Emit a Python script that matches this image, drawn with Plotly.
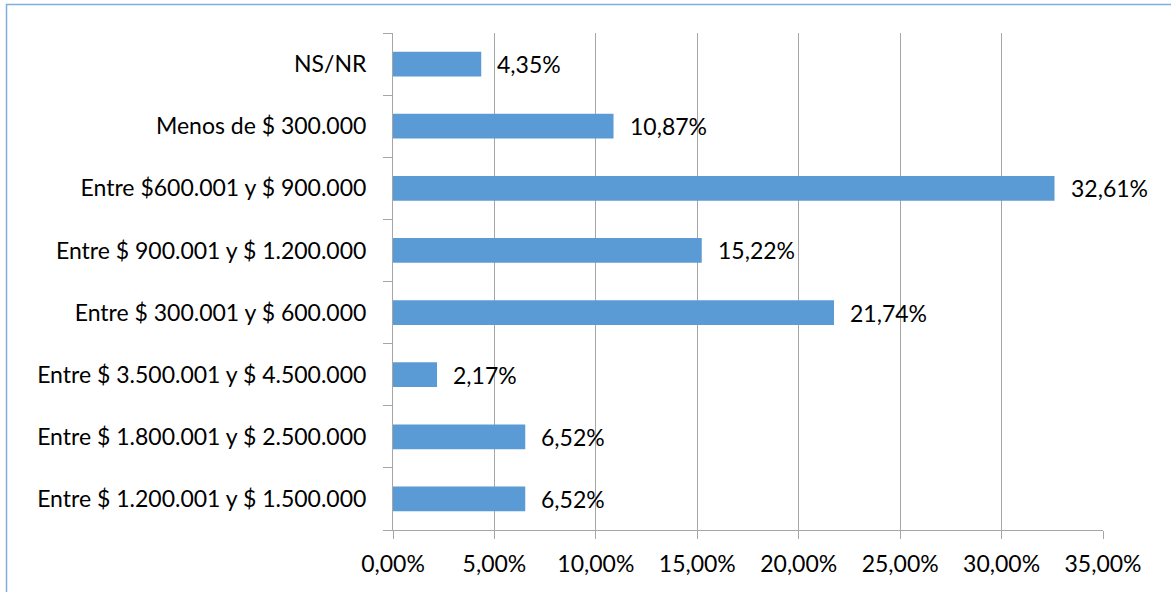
import plotly.graph_objects as go

# categories bottom -> top
categories = [
    "Entre $ 1.200.001 y $ 1.500.000",
    "Entre $ 1.800.001 y $ 2.500.000",
    "Entre $ 3.500.001 y $ 4.500.000",
    "Entre $ 300.001 y $ 600.000",
    "Entre $ 900.001 y $ 1.200.000",
    "Entre $600.001 y $ 900.000",
    "Menos de $ 300.000",
    "NS/NR",
]
percent = [6.52, 6.52, 2.17, 21.74, 15.22, 32.61, 10.87, 4.35]
x_ticks = [0, 5, 10, 15, 20, 25, 30, 35]

share = [p / 100 for p in percent]
FONT = "Lato, Calibri, 'Open Sans', sans-serif"
FS = 23

fig = go.Figure()
fig.add_trace(go.Bar(
    y=categories, x=share, orientation="h",
    marker=dict(color="#5B9BD5", line=dict(width=0)),
    width=0.4,
    hoverinfo="skip",
))

# data labels, offset right of bar end
for c, s, p in zip(categories, share, percent):
    fig.add_annotation(
        x=s, y=c, text=f"{p:.2f}".replace(".", ",") + "%",
        showarrow=False, xanchor="left", xshift=14,
        font=dict(size=FS, color="#000000", family=FONT),
    )

fig.update_layout(
    width=1171, height=592,
    paper_bgcolor="white", plot_bgcolor="white",
    separators=",.",
    margin=dict(l=393, r=68, t=33, b=62),
    showlegend=False,
    font=dict(family=FONT, size=FS, color="#000000"),
    xaxis=dict(
        range=[0, 0.35], tickvals=[t / 100 for t in x_ticks], tickformat=".2%",
        showgrid=True, gridcolor="#A6A6A6", gridwidth=1,
        showline=True, linecolor="#A6A6A6", linewidth=1,
        ticks="outside", ticklen=8, tickcolor="#A6A6A6",
        ticklabelstandoff=5, zeroline=False, fixedrange=True,
        automargin=False,
    ),
    yaxis=dict(
        categoryorder="array", categoryarray=categories,
        showline=True, linecolor="#A6A6A6", linewidth=1,
        ticks="outside", ticklen=9, tickcolor="#A6A6A6", tickson="boundaries",
        ticklabelstandoff=21, showgrid=False, fixedrange=True,
        automargin=False,
    ),
    shapes=[dict(
        type="rect", xref="paper", yref="paper",
        x0=(6.5 - 393) / 710, x1=(1190 - 393) / 710,
        y0=(530 - 610) / 497, y1=(530 - 4.5) / 497,
        line=dict(color="#7EB0E0", width=1.5),
    )],
)

fig.write_html(
    "out.html",
    config={"displayModeBar": False},
    post_script="document.body.style.margin='0';",
)
